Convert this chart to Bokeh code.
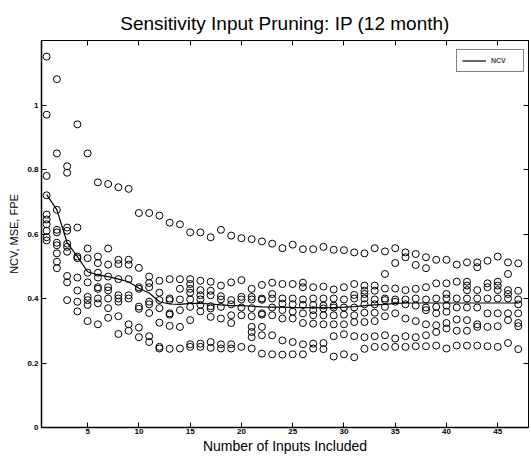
from bokeh.plotting import figure
from bokeh.models import Range1d, FixedTicker, LinearAxis, Legend, LegendItem
from bokeh.embed import file_html
from bokeh.resources import INLINE
import numpy as np

title_text = "Sensitivity Input Pruning: IP (12 month)"
x_label = "Number of Inputs Included"
y_label = "NCV, MSE, FPE"

inputs = list(range(1, 48))

x_ticks = [5, 10, 15, 20, 25, 30, 35, 40, 45]
y_ticks = [0, 0.2, 0.4, 0.6, 0.8, 1.0]
y_tick_labels = ["0", "0.2", "0.4", "0.6", "0.8", "1"]

# NCV curve
ncv = [0.722, 0.675, 0.573, 0.53, 0.483, 0.473, 0.468, 0.46, 0.452, 0.432,
       0.417, 0.39, 0.383, 0.382, 0.385, 0.385, 0.383, 0.38, 0.378, 0.378,
       0.376, 0.374, 0.373, 0.373, 0.372, 0.372, 0.372, 0.372, 0.372, 0.373,
       0.375, 0.378, 0.38, 0.382, 0.385, 0.386, 0.386, 0.386, 0.386, 0.386,
       0.386, 0.386, 0.386, 0.386, 0.386, 0.386, 0.386]

# circles (per input count, ranked from highest to lowest)
s1 = [1.15, 1.08, 0.81, 0.94, 0.85, 0.76, 0.755, 0.745, 0.74, 0.665,
      0.665, 0.657, 0.635, 0.63, 0.605, 0.605, 0.59, 0.613, 0.595, 0.587,
      0.584, 0.577, 0.57, 0.556, 0.567, 0.553, 0.553, 0.56, 0.551, 0.55,
      0.543, 0.54, 0.556, 0.546, 0.556, 0.543, 0.538, 0.528, 0.52, 0.52,
      0.505, 0.512, 0.512, 0.517, 0.53, 0.512, 0.509]
s2 = [0.97, 0.85, 0.79, 0.62, 0.555, 0.53, 0.555, 0.52, 0.52, 0.495,
      0.468, 0.455, 0.46, 0.46, 0.46, 0.455, 0.452, 0.44, 0.45, 0.457,
      0.43, 0.442, 0.449, 0.445, 0.445, 0.449, 0.435, 0.437, 0.428, 0.435,
      0.445, 0.44, 0.44, 0.476, 0.51, 0.528, 0.504, 0.494, 0.447, 0.447,
      0.452, 0.452, 0.497, 0.447, 0.452, 0.476, 0.424]
s3 = [0.78, 0.675, 0.62, 0.53, 0.525, 0.51, 0.505, 0.507, 0.505, 0.435,
      0.448, 0.418, 0.40, 0.43, 0.445, 0.426, 0.424, 0.407, 0.395, 0.405,
      0.405, 0.40, 0.414, 0.40, 0.40, 0.435, 0.40, 0.40, 0.40, 0.397,
      0.411, 0.424, 0.424, 0.431, 0.431, 0.426, 0.43, 0.435, 0.40, 0.414,
      0.40, 0.44, 0.426, 0.435, 0.44, 0.426, 0.397]
s4 = [0.72, 0.613, 0.61, 0.525, 0.48, 0.48, 0.468, 0.46, 0.46, 0.43,
      0.435, 0.395, 0.395, 0.397, 0.43, 0.41, 0.41, 0.397, 0.382, 0.397,
      0.397, 0.396, 0.40, 0.384, 0.382, 0.397, 0.38, 0.378, 0.378, 0.372,
      0.40, 0.414, 0.397, 0.40, 0.397, 0.397, 0.40, 0.397, 0.374, 0.40,
      0.372, 0.426, 0.40, 0.40, 0.426, 0.414, 0.382]
s5 = [0.66, 0.605, 0.57, 0.465, 0.45, 0.465, 0.435, 0.41, 0.41, 0.375,
      0.39, 0.37, 0.354, 0.364, 0.418, 0.397, 0.376, 0.374, 0.348, 0.372,
      0.37, 0.354, 0.372, 0.364, 0.359, 0.38, 0.364, 0.369, 0.372, 0.35,
      0.372, 0.40, 0.382, 0.395, 0.39, 0.382, 0.378, 0.372, 0.354, 0.378,
      0.335, 0.40, 0.372, 0.354, 0.40, 0.40, 0.354]
s6 = [0.645, 0.573, 0.56, 0.425, 0.405, 0.435, 0.425, 0.40, 0.40, 0.368,
      0.382, 0.325, 0.35, 0.312, 0.397, 0.38, 0.369, 0.338, 0.324, 0.348,
      0.345, 0.35, 0.348, 0.338, 0.338, 0.354, 0.348, 0.348, 0.348, 0.32,
      0.348, 0.382, 0.356, 0.374, 0.354, 0.338, 0.33, 0.364, 0.317, 0.359,
      0.30, 0.372, 0.32, 0.312, 0.354, 0.354, 0.324]
s7 = [0.63, 0.565, 0.545, 0.39, 0.395, 0.43, 0.40, 0.39, 0.32, 0.31,
      0.355, 0.25, 0.315, 0.245, 0.374, 0.36, 0.343, 0.258, 0.258, 0.25,
      0.312, 0.312, 0.286, 0.27, 0.265, 0.324, 0.322, 0.32, 0.32, 0.289,
      0.327, 0.356, 0.33, 0.345, 0.276, 0.283, 0.28, 0.32, 0.296, 0.324,
      0.254, 0.333, 0.312, 0.252, 0.314, 0.333, 0.314]
s8 = [0.61, 0.54, 0.47, 0.36, 0.38, 0.40, 0.37, 0.345, 0.30, 0.28,
      0.283, 0.245, 0.244, None, 0.333, 0.26, 0.265, 0.245, 0.245, None,
      0.296, 0.286, 0.227, 0.226, 0.227, 0.258, 0.26, 0.262, 0.283, 0.227,
      0.283, 0.327, 0.283, 0.286, 0.25, 0.25, 0.252, 0.286, 0.254, 0.307,
      None, 0.30, 0.254, None, 0.25, 0.262, 0.243]
s9 = [0.59, 0.514, 0.45, None, 0.33, 0.385, 0.34, 0.29, None, None,
      0.265, None, None, None, 0.258, 0.25, 0.247, None, None, None,
      0.28, 0.229, None, None, None, 0.227, 0.245, 0.243, 0.22, None,
      0.218, 0.28, 0.25, 0.25, None, None, None, 0.252, None, 0.245,
      None, 0.254, None, None, None, None, None]
s10 = [0.58, 0.494, 0.395, None, None, 0.32, None, None, None, None,
       None, None, None, None, 0.25, None, None, None, None, None,
       0.245, None, None, None, None, None, None, None, None, None,
       None, 0.244, None, None, None, None, None, None, None, None,
       None, None, None, None, None, None, None]

series = [s1, s2, s3, s4, s5, s6, s7, s8, s9, s10]

FONT = "Liberation Sans"

p = figure(width=530, height=457, output_backend="svg", toolbar_location=None,
           x_range=Range1d(0.5, 48), y_range=Range1d(0, 1.2),
           min_border_left=41, min_border_right=2, min_border_top=40,
           min_border_bottom=30, background_fill_color="white",
           border_fill_color="white")

p.title.text = title_text
p.title.align = "center"
p.title.vertical_align = "middle"
p.title.text_font = FONT
p.title.text_font_size = "19px"
p.title.text_font_style = "normal"
p.title.text_color = "black"
p.title.standoff = 12

p.xgrid.visible = False
p.ygrid.visible = False
p.outline_line_color = "black"
p.outline_line_width = 1

for ax in (p.xaxis[0], p.yaxis[0]):
    ax.major_tick_in = 5
    ax.major_tick_out = 0
    ax.minor_tick_line_color = None
    ax.axis_line_color = "black"
    ax.axis_line_width = 1.5
    ax.major_tick_line_color = "black"
    ax.major_label_text_font = FONT
    ax.major_label_text_font_size = "8px"
    ax.major_label_text_font_style = "bold"
    ax.major_label_text_color = "black"
    ax.axis_label_text_font = FONT
    ax.axis_label_text_font_style = "normal"
    ax.axis_label_text_color = "black"
    ax.major_label_standoff = 1
    ax.axis_label_standoff = 1

p.xaxis.axis_label_text_font_size = "14px"
p.yaxis.axis_label_text_font_size = "11px"
p.yaxis.major_label_standoff = 3
p.yaxis.axis_label_standoff = 4

p.xaxis.ticker = FixedTicker(ticks=x_ticks)
p.yaxis.ticker = FixedTicker(ticks=y_ticks)
p.yaxis.major_label_overrides = {t: l for t, l in zip(y_ticks, y_tick_labels)}
p.xaxis.axis_label = x_label
p.yaxis.axis_label = y_label

top_axis = LinearAxis(ticker=FixedTicker(ticks=x_ticks), major_tick_in=5,
                      major_tick_out=0, minor_tick_line_color=None,
                      major_label_overrides={t: "" for t in x_ticks},
                      major_label_standoff=0)
right_axis = LinearAxis(ticker=FixedTicker(ticks=y_ticks), major_tick_in=5,
                        major_tick_out=0, minor_tick_line_color=None,
                        major_label_overrides={t: "" for t in y_ticks},
                        major_label_standoff=0)
p.add_layout(top_axis, "above")
p.add_layout(right_axis, "right")

for s in series:
    p.scatter(inputs, np.array(s, dtype=float), marker="circle", size=7,
              fill_color=None, line_color="black", line_width=1)

ncv_line = p.line(inputs, ncv, line_color="black", line_width=1.2)

legend = Legend(items=[LegendItem(label="NCV", renderers=[ncv_line])],
                location=(415, 355), margin=0,
                border_line_color="black", border_line_width=1,
                background_fill_color="white", background_fill_alpha=1,
                label_text_font=FONT, label_text_font_size="7px",
                label_text_font_style="bold", glyph_width=24, glyph_height=11,
                label_height=11, label_width=27, label_standoff=5,
                padding=5, spacing=0)
p.add_layout(legend)

open("out.html", "w").write(file_html(p, INLINE))
